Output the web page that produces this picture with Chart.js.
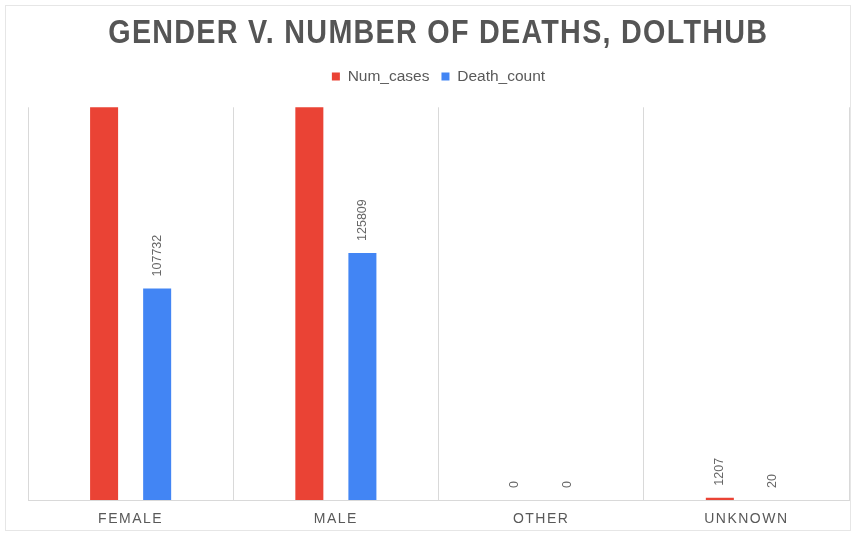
<!DOCTYPE html>
<html>
<head>
<meta charset="utf-8">
<script src="https://cdn.jsdelivr.net/npm/chart.js@4.4.1/dist/chart.umd.min.js"></script>
<style>
  html,body{margin:0;padding:0;background:#fff;}
  #wrap{position:relative;width:857px;height:536px;}
  #frame{position:absolute;left:5px;top:5px;width:846px;height:526px;border:1px solid #e6e6e6;box-sizing:border-box;pointer-events:none;}
  canvas{position:absolute;left:0;top:0;}
</style>
</head>
<body>
<div id="wrap">
  <canvas id="c" width="857" height="536"></canvas>
  <div id="frame"></div>
</div>
<script>
const categories = ["FEMALE", "MALE", "OTHER", "UNKNOWN"];
const numCases = [1900000, 1750000, 0, 1207];
const deathCount = [107732, 125809, 0, 20];
const seriesNames = ["Num_cases", "Death_count"];
const yMax = 200000;
const titleText = "GENDER V. NUMBER OF DEATHS, DOLTHUB";

const labelPlugin = {
  id: 'barLabels',
  afterDatasetsDraw(chart){
    const ctx = chart.ctx;
    ctx.save();
    ctx.letterSpacing = '0px';
    ctx.font = '12.5px "Liberation Sans", Arial, sans-serif';
    ctx.fillStyle = '#666666';
    ctx.textAlign = 'left';
    ctx.textBaseline = 'middle';
    chart.data.datasets.forEach((ds, di) => {
      const meta = chart.getDatasetMeta(di);
      meta.data.forEach((bar, i) => {
        const v = ds.data[i];
        if (v > yMax) return;
        ctx.save();
        ctx.translate(bar.x, bar.y - 12);
        ctx.rotate(-Math.PI / 2);
        ctx.fillText(String(v), 0, 0);
        ctx.restore();
      });
    });
    ctx.restore();
  }
};

const chart = new Chart(document.getElementById('c'), {
  type: 'bar',
  data: {
    labels: categories,
    datasets: [
      { label: seriesNames[0], data: numCases, backgroundColor: '#EA4335', clip: 0,
        categoryPercentage: 0.517, barPercentage: 0.528, xAxisID: 'x' },
      { label: seriesNames[1], data: deathCount, backgroundColor: '#4285F4', clip: 0,
        categoryPercentage: 0.517, barPercentage: 0.528, xAxisID: 'x' }
    ]
  },
  options: {
    responsive: false,
    animation: false,
    layout: { padding: { left: 28, right: 8, top: 0, bottom: 0 } },
    plugins: {
      title: {
        display: true,
        text: titleText,
        color: '#555555',
        font: { family: '"Liberation Sans", Arial, sans-serif', size: 34, weight: 'bold' },
        padding: { top: 13, bottom: 3 }
      },
      legend: {
        display: true,
        labels: {
          color: '#595959',
          font: { family: '"Liberation Sans", Arial, sans-serif', size: 15.5 },
          boxWidth: 8, boxHeight: 8, padding: 12
        }
      },
      tooltip: { enabled: false }
    },
    scales: {
      x: {
        offset: true,
        grid: { display: true, offset: true, color: '#d9d9d9', drawTicks: false },
        border: { display: true, color: '#d9d9d9' },
        ticks: { color: '#595959', padding: 11,
          font: { family: '"Liberation Sans", Arial, sans-serif', size: 14 } },
        afterFit(s){ s.height = 36; }
      },
      xTop: {
        type: 'category',
        position: 'top',
        grid: { display: false, drawTicks: false },
        border: { display: false },
        ticks: { display: false },
        afterFit(s){ s.height = 13; }
      },
      y: {
        display: false,
        min: 0, max: yMax
      }
    }
  }
  ,plugins: [labelPlugin]
});

// title: condensed + letter spaced; x tick labels: letter spaced
const tb = chart.titleBlock;
const origTitleDraw = tb.draw.bind(tb);
tb.draw = function(){
  const ctx = chart.ctx;
  const cx = 437;
  ctx.save();
  ctx.letterSpacing = '1.5px';
  ctx.translate(cx, 0);
  ctx.scale(0.845, 1);
  ctx.translate(-cx, 0);
  origTitleDraw();
  ctx.restore();
};
const xs = chart.scales.x;
const origXLabels = xs.drawLabels.bind(xs);
xs.drawLabels = function(area){
  const ctx = chart.ctx;
  ctx.save();
  ctx.letterSpacing = '1.5px';
  origXLabels(area);
  ctx.restore();
};
chart.draw();
</script>
</body>
</html>
